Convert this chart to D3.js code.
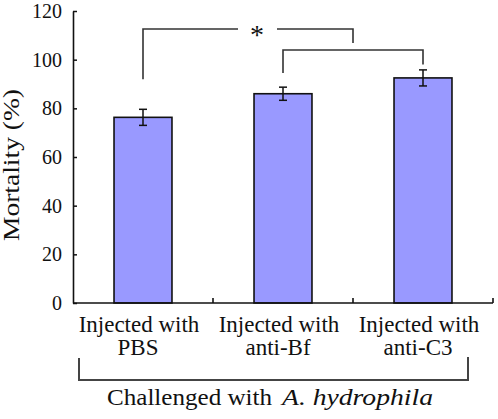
<!DOCTYPE html>
<html><head><meta charset="utf-8">
<script src="https://cdn.jsdelivr.net/npm/d3@7"></script>
<style>body{margin:0;background:#fff}svg{display:block}
text{font-family:"Liberation Serif","Times New Roman","DejaVu Serif",serif;}</style>
</head><body>
<svg id="c" width="498" height="419"></svg>
<script>
const categories = ["PBS", "anti-Bf", "anti-C3"];
const labelLine1 = ["Injected with", "Injected with", "Injected with"];
const mortality = [76.3, 86.0, 92.5];
const errors = [3.3, 2.7, 3.3];
const yTicks = [0, 20, 40, 60, 80, 100, 120];

const svg = d3.select("#c");
const y = d3.scaleLinear().domain([0, 120]).range([303, 11]);
const x = d3.scaleBand().domain(categories).range([73, 493]).paddingInner(0.586).paddingOuter(0.293);
const cx = d => x(d) + x.bandwidth() / 2;

// bars
svg.selectAll("rect.bar").data(categories).join("rect")
  .attr("x", d => x(d)).attr("width", x.bandwidth())
  .attr("y", (d, i) => y(mortality[i])).attr("height", (d, i) => y(0) - y(mortality[i]))
  .attr("fill", "#9999ff").attr("stroke", "#111").attr("stroke-width", 1.6);

// error bars
const eb = svg.append("g").attr("stroke", "#111").attr("stroke-width", 1.5);
categories.forEach((c, i) => {
  const m = mortality[i], e = errors[i], xc = cx(c);
  eb.append("line").attr("x1", xc).attr("x2", xc).attr("y1", y(m + e)).attr("y2", y(m - e));
  eb.append("line").attr("x1", xc - 4).attr("x2", xc + 4).attr("y1", y(m + e)).attr("y2", y(m + e));
  eb.append("line").attr("x1", xc - 4).attr("x2", xc + 4).attr("y1", y(m - e)).attr("y2", y(m - e));
});

// y axis
const yAxis = svg.append("g").attr("transform", "translate(73,0)")
  .call(d3.axisLeft(y).tickValues(yTicks).tickSizeInner(-4).tickSizeOuter(0).tickPadding(11));
yAxis.attr("font-family", null);
yAxis.select(".domain").attr("stroke", "#111").attr("stroke-width", 1.6);
yAxis.selectAll(".tick line").attr("stroke", "#111").attr("stroke-width", 1.5);
yAxis.selectAll(".tick text").attr("font-size", 20).attr("fill", "#111");

// x axis baseline and ticks at band boundaries
const xa = svg.append("g").attr("stroke", "#111").attr("stroke-width", 1.6);
xa.append("line").attr("x1", 73).attr("x2", 493).attr("y1", y(0)).attr("y2", y(0));
const bounds = categories.map(c => x(c) - x.step() * x.paddingOuter()).concat([493]);
bounds.slice(1).forEach(b => xa.append("line").attr("x1", b).attr("x2", b).attr("y1", y(0)).attr("y2", y(0) - 5));

// category labels
categories.forEach((c, i) => {
  svg.append("text").attr("x", cx(c) - 4).attr("y", 332).attr("text-anchor", "middle")
    .attr("font-size", 23).attr("fill", "#111").text(labelLine1[i]);
  svg.append("text").attr("x", cx(c) - 5).attr("y", 355).attr("text-anchor", "middle")
    .attr("font-size", 23).attr("fill", "#111").text(c);
});

// y title
svg.append("text").attr("transform", "translate(19,165) rotate(-90)").attr("text-anchor", "middle")
  .attr("font-size", 23).attr("fill", "#111")
  .attr("textLength", 152).attr("lengthAdjust", "spacingAndGlyphs").text("Mortality (%)");

// bottom bracket
svg.append("path").attr("d", `M79,358 V380 H468 V357`).attr("fill", "none").attr("stroke", "#444").attr("stroke-width", 2);
svg.append("text").attr("x", 107).attr("y", 405).attr("font-size", 23).attr("fill", "#111")
  .attr("textLength", 165).attr("lengthAdjust", "spacingAndGlyphs").text("Challenged with");
svg.append("text").attr("x", 282).attr("y", 405).attr("font-size", 23).attr("font-style", "italic").attr("fill", "#111")
  .attr("textLength", 151).attr("lengthAdjust", "spacingAndGlyphs").text("A. hydrophila");

// significance brackets
const sig = svg.append("g").attr("fill", "none").attr("stroke", "#333").attr("stroke-width", 1.6);
sig.append("path").attr("d", `M${cx("PBS")},${y(92)} V29 H238 M277,29 H353 V43`);
sig.append("path").attr("d", `M${cx("anti-Bf")},${y(94.5)} V50 H${cx("anti-C3")} V${y(98)}`);
svg.append("text").attr("x", 257).attr("y", 44).attr("text-anchor", "middle")
  .attr("font-size", 28).attr("fill", "#111").text("*");
</script>
</body></html>
